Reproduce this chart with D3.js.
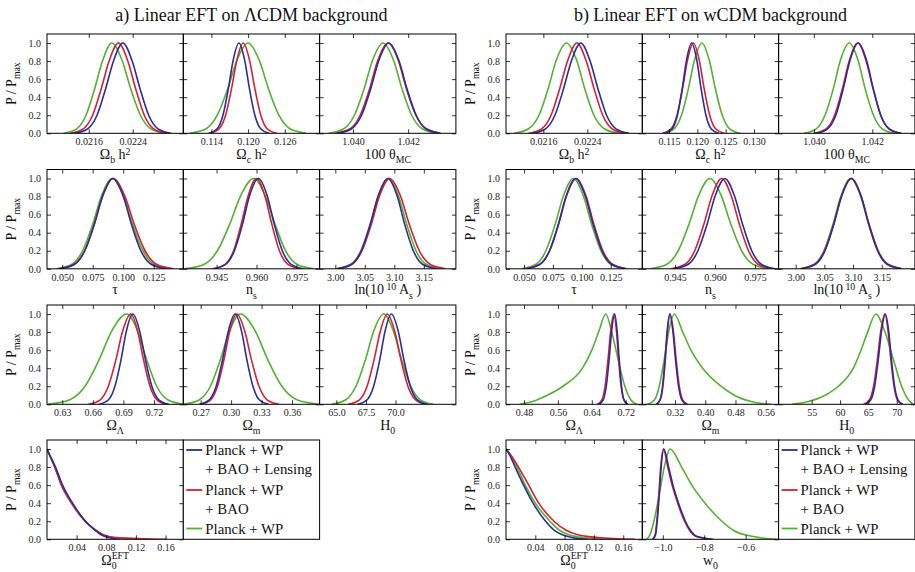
<!DOCTYPE html>
<html><head><meta charset="utf-8">
<script src="https://cdn.jsdelivr.net/npm/d3@7"></script>
<style>
body{margin:0;background:#fff;}
svg{display:block;font-family:"Liberation Serif","Times New Roman",serif;}
svg text{font-family:"Liberation Serif","Times New Roman",serif;}
</style></head><body>
<svg id="chart" width="915" height="572"></svg>
<script>
// Normalised posterior heights at which each curve's x positions are listed
const LV = [0, 0.05, 0.2, 0.5, 0.8, 1, 0.8, 0.5, 0.2, 0.05, 0];
const LV_LONG_LEFT = [0, 0.03, 0.1, 0.2, 0.4, 0.6, 0.8, 1, 0.8, 0.5, 0.2, 0.05, 0];
const LV_LONG_RIGHT = [0, 0.05, 0.2, 0.5, 0.8, 1, 0.8, 0.6, 0.4, 0.2, 0.1, 0.03, 0];
const LV_EFT = [1, 0.95, 0.8, 0.6, 0.4, 0.2, 0.1, 0.05, 0.02, 0];
const Y_TICKS = ["0.0", "0.2", "0.4", "0.6", "0.8", "1.0"];

// Series order in every block: [Planck+WP+BAO+Lensing, Planck+WP+BAO, Planck+WP]
const legendLines = [["Planck + WP", "+ BAO + Lensing"], ["Planck + WP", "+ BAO"], ["Planck + WP"]];

// ---- a) Linear EFT on LCDM background ----
const aOmbh2Range = [0.02084, 0.02332];
const aOmbh2Ticks = ["0.0216", "0.0224"];
const aOmbh2 = [
  [0.02134, 0.02158, 0.02175, 0.02191, 0.02205, 0.02222, 0.02239, 0.02253, 0.02269, 0.02286, 0.02310],
  [0.02126, 0.02150, 0.02167, 0.02183, 0.02197, 0.02214, 0.02231, 0.02245, 0.02261, 0.02278, 0.02302],
  [0.02114, 0.02138, 0.02155, 0.02171, 0.02185, 0.02202, 0.02221, 0.02236, 0.02254, 0.02273, 0.02301]];
const aOmch2Range = [0.1094, 0.1317];
const aOmch2Ticks = ["0.114", "0.120", "0.126"];
const aOmch2 = [
  [0.11357, 0.11495, 0.11589, 0.11679, 0.11753, 0.1185, 0.11947, 0.12021, 0.12111, 0.12205, 0.12343],
  [0.11376, 0.11528, 0.11632, 0.11731, 0.11813, 0.1192, 0.12027, 0.12109, 0.12208, 0.12312, 0.12464],
  [0.11048, 0.11314, 0.11496, 0.1167, 0.11812, 0.1200, 0.12188, 0.1233, 0.12504, 0.12686, 0.12952]];
const aThetaRange = [1.03879, 1.04373];
const aThetaTicks = ["1.040", "1.042"];
const aTheta = [
  [1.03943, 1.03995, 1.04031, 1.04065, 1.04093, 1.0413, 1.04167, 1.04195, 1.04229, 1.04265, 1.04317],
  [1.03937, 1.0399, 1.04026, 1.04061, 1.04089, 1.04127, 1.04165, 1.04193, 1.04228, 1.04264, 1.04317],
  [1.03912, 1.03967, 1.04005, 1.04041, 1.0407, 1.04109, 1.04148, 1.04177, 1.04213, 1.04251, 1.04306]];
const aTauRange = [0.0375, 0.1493];
const aTauTicks = ["0.050", "0.075", "0.100", "0.125"];
const aTau = [
  [0.048, 0.0601, 0.0685, 0.0764, 0.0829, 0.0915, 0.1001, 0.1066, 0.1145, 0.1229, 0.135],
  [0.0476, 0.0599, 0.0684, 0.0765, 0.0831, 0.0918, 0.1015, 0.1089, 0.1179, 0.1273, 0.1411],
  [0.0451, 0.0579, 0.0667, 0.0751, 0.082, 0.091, 0.1004, 0.1075, 0.1162, 0.1253, 0.1386]];
const aNsRange = [0.9325, 0.9837];
const aNsTicks = ["0.945", "0.960", "0.975"];
const aNs = [
  [0.9437, 0.9484, 0.9517, 0.9548, 0.9573, 0.9607, 0.9641, 0.9666, 0.9697, 0.973, 0.9777],
  [0.9437, 0.9482, 0.9514, 0.9543, 0.9568, 0.96, 0.9632, 0.9657, 0.9686, 0.9718, 0.9763],
  [0.9332, 0.9404, 0.9453, 0.95, 0.9539, 0.959, 0.9634, 0.9669, 0.9709, 0.9752, 0.9814]];
const aAsRange = [2.9733, 3.2044];
const aAsTicks = ["3.00", "3.05", "3.10", "3.15"];
const aAs = [
  [3.004, 3.0277, 3.044, 3.0595, 3.0722, 3.089, 3.1051, 3.1173, 3.1322, 3.1478, 3.1706],
  [3.0036, 3.0283, 3.0452, 3.0613, 3.0746, 3.092, 3.1108, 3.125, 3.1424, 3.1606, 3.1872],
  [3.0016, 3.0263, 3.0432, 3.0593, 3.0726, 3.09, 3.1074, 3.1207, 3.1368, 3.1537, 3.1784]];
const aOLRange = [0.615, 0.7488];
const aOLTicks = ["0.63", "0.66", "0.69", "0.72"];
const aOL = [
  [0.6662, 0.6754, 0.6817, 0.6878, 0.6927, 0.6992, 0.7062, 0.7115, 0.7179, 0.7247, 0.7346],
  [0.6557, 0.6673, 0.6752, 0.6828, 0.689, 0.6972, 0.7042, 0.7096, 0.7161, 0.7229, 0.7329],
  [0.6158, 0.6374, 0.6523, 0.6664, 0.678, 0.6933, 0.7043, 0.7127, 0.7227, 0.7335, 0.7491]];
const aOmRange = [0.2529, 0.3872];
const aOmTicks = ["0.27", "0.30", "0.33", "0.36"];
const aOm = [
  [0.2686, 0.2785, 0.2853, 0.2917, 0.297, 0.304, 0.3105, 0.3154, 0.3215, 0.3278, 0.337],
  [0.2698, 0.2798, 0.2866, 0.2931, 0.2985, 0.3055, 0.3137, 0.3199, 0.3275, 0.3354, 0.347],
  [0.2532, 0.2688, 0.2796, 0.2896, 0.298, 0.309, 0.3243, 0.3359, 0.35, 0.3649, 0.3865]];
const aH0Range = [63.58, 75.11];
const aH0Ticks = ["65.0", "67.5", "70.0"];
const aH0 = [
  [66.8, 67.6, 68.15, 68.68, 69.1, 69.65, 70.25, 70.7, 71.25, 71.85, 72.7],
  [66.0, 66.95, 67.6, 68.2, 68.7, 69.3, 69.95, 70.45, 71.05, 71.7, 72.6],
  [64.6, 65.8, 66.65, 67.47, 68.13, 69.0, 69.85, 70.5, 71.3, 72.1, 73.2]];
const aEftRange = [0, 0.184];
const aEftTicks = ["0.04", "0.08", "0.12", "0.16"];
const aEft = [
  [0, 0.0027, 0.0115, 0.021, 0.0345, 0.052, 0.065, 0.073, 0.083, 0.098],
  [0, 0.0025, 0.0105, 0.0195, 0.033, 0.0515, 0.066, 0.076, 0.092, 0.162],
  [0, 0.0025, 0.0105, 0.0195, 0.0333, 0.0514, 0.0655, 0.075, 0.09, 0.14]];

// ---- b) Linear EFT on wCDM background ----
const bOmbh2Range = [0.02092, 0.0234];
const bOmbh2Ticks = ["0.0216", "0.0224"];
const bOmbh2 = [
  [0.0214, 0.02164, 0.02181, 0.02197, 0.02211, 0.02228, 0.02245, 0.02259, 0.02275, 0.02292, 0.02316],
  [0.02133, 0.02157, 0.02174, 0.0219, 0.02204, 0.02221, 0.02238, 0.02252, 0.02268, 0.02285, 0.02309],
  [0.02107, 0.02133, 0.02152, 0.02169, 0.02183, 0.02202, 0.02221, 0.02235, 0.02252, 0.02271, 0.02297]];
const bOmch2Range = [0.11029, 0.13434];
const bOmch2Ticks = ["0.115", "0.120", "0.125", "0.130"];
const bOmch2 = [
  [0.11424, 0.11557, 0.11648, 0.11735, 0.11806, 0.119, 0.11994, 0.12065, 0.12152, 0.12243, 0.12376],
  [0.11386, 0.11538, 0.11642, 0.11741, 0.11823, 0.1193, 0.12037, 0.12119, 0.12218, 0.12322, 0.12474],
  [0.114, 0.1159, 0.1172, 0.11844, 0.11946, 0.1208, 0.12214, 0.12316, 0.1244, 0.1257, 0.1276]];
const bThetaRange = [1.03879, 1.04346];
const bThetaTicks = ["1.040", "1.042"];
const bTheta = [
  [1.04006, 1.04047, 1.04075, 1.04101, 1.04123, 1.04152, 1.04181, 1.04203, 1.04229, 1.04257, 1.04298],
  [1.04, 1.04042, 1.04071, 1.04098, 1.04121, 1.0415, 1.04179, 1.04202, 1.04229, 1.04258, 1.043],
  [1.03965, 1.04008, 1.04038, 1.04067, 1.0409, 1.04121, 1.04152, 1.04175, 1.04204, 1.04234, 1.04277]];
const bTauRange = [0.0344, 0.1523];
const bTauTicks = ["0.050", "0.075", "0.100", "0.125"];
const bTau = [
  [0.0519, 0.0638, 0.072, 0.0798, 0.0863, 0.0947, 0.1031, 0.1096, 0.1174, 0.1256, 0.1375],
  [0.0517, 0.0638, 0.0722, 0.0801, 0.0866, 0.0952, 0.1038, 0.1103, 0.1182, 0.1266, 0.1387],
  [0.0478, 0.0604, 0.0689, 0.0771, 0.0839, 0.0927, 0.1015, 0.1083, 0.1165, 0.125, 0.1376]];
const bNsRange = [0.9327, 0.9839];
const bNsTicks = ["0.945", "0.960", "0.975"];
const bNs = [
  [0.9447, 0.95, 0.9536, 0.9571, 0.96, 0.9637, 0.9674, 0.9703, 0.9738, 0.9774, 0.9827],
  [0.9435, 0.9488, 0.9524, 0.9559, 0.9588, 0.9625, 0.9662, 0.9691, 0.9726, 0.9762, 0.9815],
  [0.9357, 0.9419, 0.9462, 0.9503, 0.9537, 0.9581, 0.9625, 0.9659, 0.97, 0.9743, 0.9805]];
const bAsRange = [2.9702, 3.2078];
const bAsTicks = ["3.00", "3.05", "3.10", "3.15"];
const bAs = [
  [3.0103, 3.0345, 3.0511, 3.0669, 3.0799, 3.097, 3.1141, 3.1271, 3.1429, 3.1595, 3.1837],
  [3.0086, 3.0333, 3.0502, 3.0663, 3.0796, 3.097, 3.1144, 3.1277, 3.1438, 3.1607, 3.1854],
  [3.0076, 3.0323, 3.0492, 3.0653, 3.0786, 3.096, 3.1134, 3.1267, 3.1428, 3.1597, 3.1844]];
const bOLRange = [0.4375, 0.7592];
const bOLTicks = ["0.48", "0.56", "0.64", "0.72"];
const bOL = [
  [0.6566, 0.667, 0.6742, 0.681, 0.6866, 0.694, 0.7, 0.7046, 0.7102, 0.716, 0.7246],
  [0.6529, 0.6638, 0.6713, 0.6784, 0.6843, 0.692, 0.6984, 0.7032, 0.7091, 0.7153, 0.7243],
  [0.47, 0.50, 0.535, 0.572, 0.618, 0.640, 0.656, 0.673, 0.687, 0.702, 0.718, 0.732, 0.746]];
const bOmRange = [0.2335, 0.5941];
const bOmTicks = ["0.32", "0.40", "0.48", "0.56"];
const bOm = [
  [0.2703, 0.2803, 0.2871, 0.2936, 0.299, 0.306, 0.3147, 0.3213, 0.3294, 0.3379, 0.3502],
  [0.2713, 0.2813, 0.2881, 0.2946, 0.3, 0.307, 0.316, 0.3229, 0.3313, 0.3401, 0.3529],
  [0.247, 0.266, 0.2785, 0.2917, 0.3033, 0.318, 0.3404, 0.3623, 0.3933, 0.4417, 0.4769, 0.5211, 0.574]];
const bH0Range = [49.16, 73.21];
const bH0Ticks = ["55", "60", "65", "70"];
const bH0 = [
  [64.43, 65.43, 66.11, 66.76, 67.3, 68.0, 68.6, 69.06, 69.62, 70.21, 71.06],
  [64.16, 65.2, 65.92, 66.6, 67.16, 67.9, 68.5, 68.96, 69.52, 70.11, 70.96],
  [51.5, 54.4, 57.35, 59.7, 62.35, 63.7, 64.87, 66.3, 67.94, 69.4, 70.87, 72.06, 72.9]];
const bEftRange = [0, 0.186];
const bEftTicks = ["0.04", "0.08", "0.12", "0.16"];
const bEft = [
  [0, 0.004, 0.0125, 0.024, 0.037, 0.054, 0.066, 0.077, 0.09, 0.112],
  [0, 0.005, 0.017, 0.031, 0.0447, 0.0655, 0.082, 0.098, 0.125, 0.176],
  [0, 0.0045, 0.015, 0.0263, 0.04, 0.06, 0.073, 0.086, 0.105, 0.143]];
const bW0Range = [-1.099, -0.441];
const bW0Ticks = ["−1.0", "−0.8", "−0.6"];
const bW0 = [
  [-1.048, -1.035, -1.027, -1.017, -1.008, -0.995, -0.972, -0.951, -0.924, -0.891, -0.867, -0.834, -0.765],
  [-1.05, -1.037, -1.029, -1.019, -1.01, -0.997, -0.976, -0.955, -0.928, -0.895, -0.871, -0.838, -0.755],
  [-1.078, -1.062, -1.043, -1.017, -0.993, -0.965, -0.909, -0.86, -0.796, -0.715, -0.66, -0.563, -0.45]];

// Axis labels as [text, role] pieces
const labOmbh2 = [["Ω", ""], ["b", "sub"], [" h", ""], ["2", "sup"]];
const labOmch2 = [["Ω", ""], ["c", "sub"], [" h", ""], ["2", "sup"]];
const labTheta = [["100 θ", ""], ["MC", "sub"]];
const labTau = [["τ", ""]];
const labNs = [["n", ""], ["s", "sub"]];
const labAs = [["ln(10", ""], [" 10", "sup"], [" A", ""], ["s", "sub"], [" )", ""]];
const labOL = [["Ω", ""], ["Λ", "sub"]];
const labOm = [["Ω", ""], ["m", "sub"]];
const labH0 = [["H", ""], ["0", "sub"]];
const labEft = [["Ω", ""], [["0", "EFT"], "subsup"]];
const labW0 = [["w", ""], ["0", "sub"]];

// ---------------- drawing ----------------
const svg = d3.select("#chart");
const COLORS = ["#2b2d94", "#d81f34", "#55b132"];
const GX = [47, 506];
const PW = 136.3, PH = 99.3;
const ROWY = [34, 169.5, 305, 440];
const FONT = "Liberation Serif";

function richText(parent, segs, size) {
  const t = parent.append("text").attr("font-size", size).attr("fill", "#111");
  let shift = 0;
  const sub = 0.3 * size, sup = -0.28 * size, small = 0.7 * size;
  segs.forEach(([s, role]) => {
    if (role === "subsup") {
      const a = t.append("tspan").text(s[0]).attr("font-size", small).attr("dy", sub - shift);
      const w = a.node().getComputedTextLength();
      t.append("tspan").text(s[1]).attr("font-size", small).attr("dx", -w).attr("dy", -0.42 * size - sub);
      shift = -0.42 * size;
      return;
    }
    const target = role === "sub" ? sub : role === "sup" ? sup : 0;
    const sp = t.append("tspan").text(s).attr("font-size", role ? small : size);
    if (target - shift !== 0) sp.attr("dy", target - shift);
    shift = target;
  });
  return t;
}

function styleAxis(g, size) {
  g.attr("font-family", FONT).attr("font-size", size);
  g.select(".domain").remove();
  g.selectAll(".tick line").attr("stroke", "#000").attr("stroke-width", 0.8);
  g.selectAll(".tick text").attr("fill", "#222");
}

let clipId = 0;
function drawPanel(gi, col, row, range, ticks, data, levels, label, showY) {
  const x0 = GX[gi] + col * PW, top = ROWY[row];
  const sx = d3.scaleLinear().domain(range).range([x0, x0 + PW]);
  const sy = d3.scaleLinear().domain([0, 1.1]).range([top + PH, top]);
  const g = svg.append("g");
  const id = "clip" + (clipId++);
  g.append("clipPath").attr("id", id).append("rect")
    .attr("x", x0).attr("y", top).attr("width", PW).attr("height", PH);
  const line = d3.line().x(d => sx(d[0])).y(d => sy(d[1])).curve(d3.curveMonotoneX);
  const cg = g.append("g").attr("clip-path", `url(#${id})`);
  [2, 1, 0].forEach(i => {
    const lv = levels[i];
    cg.append("path")
      .attr("d", line(data[i].map((v, j) => [v, lv[j]])))
      .attr("fill", "none").attr("stroke", COLORS[i]).attr("stroke-width", 1.6)
      .attr("stroke-linejoin", "round");
  });
  const tv = ticks.map(s => +s.replace("−", "-"));
  const yv = Y_TICKS.map(Number);
  const bx = g.append("g").attr("transform", `translate(0,${top + PH})`)
    .call(d3.axisBottom(sx).tickValues(tv).tickSize(-4).tickPadding(5).tickFormat((d, i) => ticks[i]));
  styleAxis(bx, 10);
  const tx = g.append("g").attr("transform", `translate(0,${top})`)
    .call(d3.axisTop(sx).tickValues(tv).tickSize(-4).tickFormat(""));
  styleAxis(tx, 10);
  const ly = g.append("g").attr("transform", `translate(${x0},0)`)
    .call(d3.axisLeft(sy).tickValues(yv).tickSize(-4).tickPadding(6)
      .tickFormat((d, i) => showY ? Y_TICKS[i] : ""));
  styleAxis(ly, 10);
  const ry = g.append("g").attr("transform", `translate(${x0 + PW},0)`)
    .call(d3.axisRight(sy).tickValues(yv).tickSize(-4).tickFormat(""));
  styleAxis(ry, 10);
  g.append("rect").attr("x", x0).attr("y", top).attr("width", PW).attr("height", PH)
    .attr("fill", "none").attr("stroke", "#000").attr("stroke-width", 1);
  richText(g, label, 14).attr("text-anchor", "middle")
    .attr("x", x0 + PW / 2).attr("y", top + PH + 25.5);
}

function drawYLabel(gi, row) {
  const cy = ROWY[row] + PH / 2;
  const x = GX[gi] - 31;
  richText(svg.append("g").attr("transform", `translate(${x},${cy}) rotate(-90)`),
    [["P / P", ""], ["max", "sub"]], 14).attr("text-anchor", "middle");
}

function drawLegend(gi, col, row) {
  const x0 = GX[gi] + col * PW, top = ROWY[row];
  const g = svg.append("g");
  g.append("rect").attr("x", x0).attr("y", top).attr("width", PW).attr("height", PH)
    .attr("fill", "#fff").attr("stroke", "#000").attr("stroke-width", 1);
  const starts = [10, 50, 88.5];
  legendLines.forEach((lines, i) => {
    const yy = top + starts[i];
    g.append("line").attr("x1", x0 + 3).attr("x2", x0 + 19).attr("y1", yy).attr("y2", yy)
      .attr("stroke", COLORS[i]).attr("stroke-width", 1.8);
    lines.forEach((s, k) => {
      g.append("text").attr("x", x0 + 22).attr("y", yy + 5 + k * 18.7)
        .attr("font-size", 14.8).attr("fill", "#111").text(s);
    });
  });
}

const STD = [LV, LV, LV];
// a) panels
drawPanel(0, 0, 0, aOmbh2Range, aOmbh2Ticks, aOmbh2, STD, labOmbh2, true);
drawPanel(0, 1, 0, aOmch2Range, aOmch2Ticks, aOmch2, STD, labOmch2, false);
drawPanel(0, 2, 0, aThetaRange, aThetaTicks, aTheta, STD, labTheta, false);
drawPanel(0, 0, 1, aTauRange, aTauTicks, aTau, STD, labTau, true);
drawPanel(0, 1, 1, aNsRange, aNsTicks, aNs, STD, labNs, false);
drawPanel(0, 2, 1, aAsRange, aAsTicks, aAs, STD, labAs, false);
drawPanel(0, 0, 2, aOLRange, aOLTicks, aOL, STD, labOL, true);
drawPanel(0, 1, 2, aOmRange, aOmTicks, aOm, STD, labOm, false);
drawPanel(0, 2, 2, aH0Range, aH0Ticks, aH0, STD, labH0, false);
drawPanel(0, 0, 3, aEftRange, aEftTicks, aEft, [LV_EFT, LV_EFT, LV_EFT], labEft, true);
drawLegend(0, 1, 3);
// b) panels
drawPanel(1, 0, 0, bOmbh2Range, bOmbh2Ticks, bOmbh2, STD, labOmbh2, true);
drawPanel(1, 1, 0, bOmch2Range, bOmch2Ticks, bOmch2, STD, labOmch2, false);
drawPanel(1, 2, 0, bThetaRange, bThetaTicks, bTheta, STD, labTheta, false);
drawPanel(1, 0, 1, bTauRange, bTauTicks, bTau, STD, labTau, true);
drawPanel(1, 1, 1, bNsRange, bNsTicks, bNs, STD, labNs, false);
drawPanel(1, 2, 1, bAsRange, bAsTicks, bAs, STD, labAs, false);
drawPanel(1, 0, 2, bOLRange, bOLTicks, bOL, [LV, LV, LV_LONG_LEFT], labOL, true);
drawPanel(1, 1, 2, bOmRange, bOmTicks, bOm, [LV, LV, LV_LONG_RIGHT], labOm, false);
drawPanel(1, 2, 2, bH0Range, bH0Ticks, bH0, [LV, LV, LV_LONG_LEFT], labH0, false);
drawPanel(1, 0, 3, bEftRange, bEftTicks, bEft, [LV_EFT, LV_EFT, LV_EFT], labEft, true);
drawPanel(1, 1, 3, bW0Range, bW0Ticks, bW0, [LV_LONG_RIGHT, LV_LONG_RIGHT, LV_LONG_RIGHT], labW0, false);
drawLegend(1, 2, 3);

[0, 1].forEach(gi => [0, 1, 2, 3].forEach(r => drawYLabel(gi, r)));

const titles = ["a) Linear EFT on ΛCDM background", "b) Linear EFT on wCDM background"];
titles.forEach((s, gi) => {
  svg.append("text").attr("x", GX[gi] + 1.5 * PW).attr("y", 21).attr("text-anchor", "middle")
    .attr("font-size", 18).attr("fill", "#111").text(s);
});
</script>
</body></html>
